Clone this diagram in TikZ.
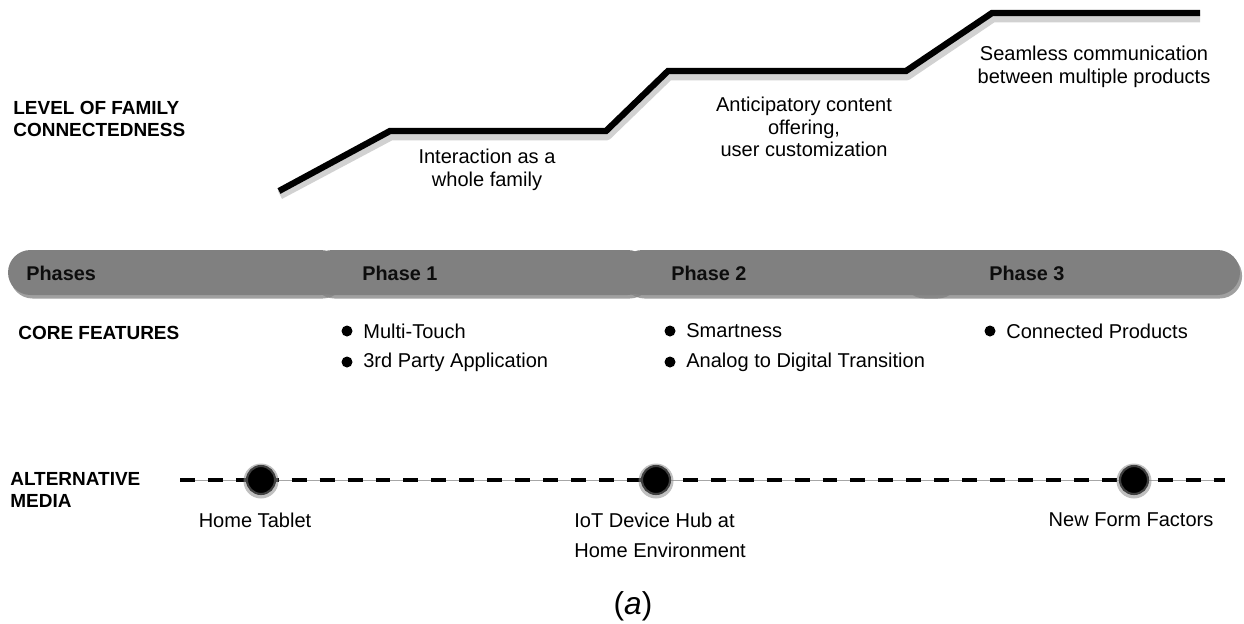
\documentclass[tikz,border=0pt]{standalone}
\usepackage{fontspec}
\setmainfont{Liberation Sans}
\usetikzlibrary{shadows,calc}

\tikzset{
  headlbl/.style={font=\bfseries\fontsize{10.8}{12.6}\selectfont, align=left, anchor=west, inner sep=0pt, text=black},
  steptxt/.style={font=\fontsize{11.4}{12.8}\selectfont, align=center, inner sep=0pt, text=black},
  phaselbl/.style={font=\bfseries\fontsize{11.3}{13}\selectfont, anchor=west, inner sep=0pt, text=black!95},
  featbullet/.style={circle, fill=black, inner sep=0pt, minimum size=0.22cm},
  feattxt/.style={font=\fontsize{11.4}{13}\selectfont, anchor=west, inner sep=0pt, text=black},
  mediadot/.style={circle, fill=black, draw=black!75, line width=1.2pt, inner sep=0pt, minimum size=0.56cm},
  stairline/.style={line width=3.6pt, black},
  barseg/.style={fill=black!50, rounded corners=0.45cm,
    drop shadow={shadow xshift=1.2pt, shadow yshift=-2pt, opacity=0.75}},
}

\begin{document}
\begin{tikzpicture}[x=0.02cm,y=-0.02cm]
  \useasboundingbox (0,0) rectangle (1244,623);

  % level of connectedness
  \draw[line width=5pt, black!30, opacity=0.6, line join=round]
    (280,195)--(391,136)--(607,136)--(669,76)--(907,76)--(993,18)--(1200,18);
  \draw[stairline] (279,191)--(390,131)--(606,131)--(668,71)--(906,71)--(992,13)--(1200,13);

  \node[headlbl] (level) at (13,119) {LEVEL OF FAMILY\\CONNECTEDNESS};
  \node[steptxt] (stepa) at (487,170) {Interaction as a\\whole family};
  \node[steptxt] (stepb) at (804,127) {Anticipatory content\\offering,\\user customization};
  \node[steptxt] (stepc) at (1094,67) {Seamless communication\\between multiple products};

  % phases bar
  \foreach \a/\b in {900/1240, 620/958, 310/650, 8/343}{
    \fill[barseg] (\a,250) rectangle (\b,295);
  }
  \node[phaselbl] (phases) at (26,273) {Phases};
  \node[phaselbl] (ph1) at (362,273) {Phase 1};
  \node[phaselbl] (ph2) at (671,273) {Phase 2};
  \node[phaselbl] (ph3) at (989,273) {Phase 3};

  % core features
  \node[headlbl] (core) at (18,333) {CORE FEATURES};
  \foreach \n/\x/\y/\t in {fa/347/331/Multi-Touch, fb/347/362/3rd Party Application,
      fc/670/331/Smartness, fd/670/362/Analog to Digital Transition,
      fe/990/331/Connected Products}{
    \node[featbullet] (\n dot) at (\x,\y) {};
    \node[feattxt] (\n) at ($(\n dot)+(16,0)$) {\t};
  }

  % alternative media
  \node[headlbl] (media) at (10,490) {ALTERNATIVE\\MEDIA};
  \coordinate (ml) at (180,480);
  \coordinate (mr) at (1225,480);
  \draw[black!35, line width=0.5pt] (ml)--(mr);
  \draw[black, line width=1.8pt, dash pattern=on 8.5pt off 7.4pt] (ml)--(mr);

  \foreach \n/\x in {home/261, hub/656, form/1134}{
    \fill[black!45, opacity=0.55] (\x,481) circle (0.35cm);
    \node[mediadot] (\n) at (\x,480) {};
  }
  \node[steptxt] (hometxt) at (255,520) {Home Tablet};
  \node[steptxt, align=left, anchor=west, font=\fontsize{11.4}{17}\selectfont] (hubtxt) at (574,535) {IoT Device Hub at\\Home Environment};
  \node[steptxt] (formtxt) at (1131,520) {New Form Factors};

  \node[font=\fontsize{18}{20}\selectfont, inner sep=0pt] (caption) at (633,606) {(\textit{a})};
\end{tikzpicture}
\end{document}
